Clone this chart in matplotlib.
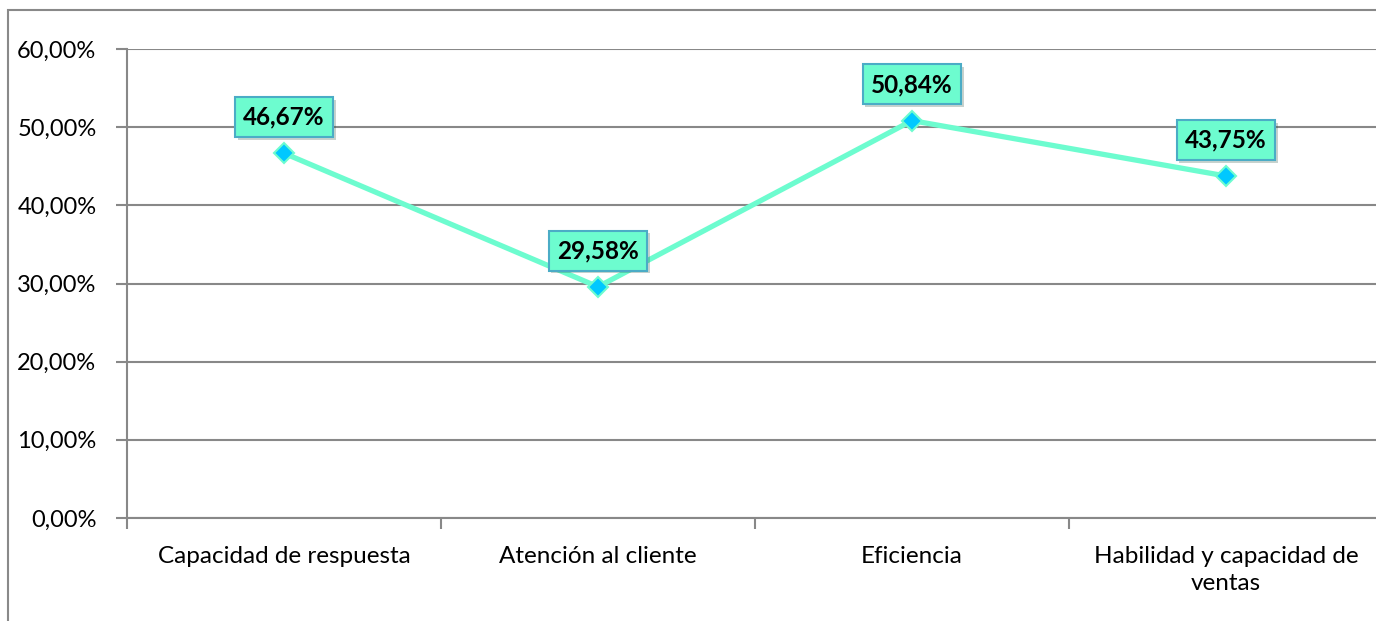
import matplotlib
matplotlib.use("Agg")
import matplotlib.pyplot as plt
from matplotlib.patches import Rectangle
import matplotlib.patheffects as pe

# datos del grafico
categorias = ["Capacidad de respuesta", "Atención al cliente", "Eficiencia",
              "Habilidad y capacidad de\nventas"]
valores = [46.67, 29.58, 50.84, 43.75]
yticks = [0, 10, 20, 30, 40, 50, 60]

plt.rcParams['font.family'] = ['Lato', 'DejaVu Sans']

fig = plt.figure(figsize=(13.76, 6.21), dpi=100)

# marco exterior (cortado a la derecha y abajo)
fig.patches.append(Rectangle((8 / 1376, -0.1), 1.2, 1.1 - 10 / 621,
                             transform=fig.transFigure, fill=False,
                             edgecolor="#898989", linewidth=1.5))

ax = fig.add_axes([127 / 1376, 103 / 621, 1256 / 1376, 469 / 621])

x = list(range(len(categorias)))
ax.plot(x, valores, color="#6DFCCF", linewidth=3.8, zorder=3)
ax.plot(x, valores, linestyle="none", marker="D", markersize=10,
        markerfacecolor="#00C8FF", markeredgecolor="#6DFCCF",
        markeredgewidth=1.5, zorder=4)

for xi, v in zip(x, valores):
    etiqueta = f"{v:.2f}%".replace(".", ",")
    ax.annotate(etiqueta, (xi, v), xytext=(0, 26), textcoords="offset points",
                ha="center", va="center", fontsize=17.5, fontweight="bold",
                color="black", zorder=6,
                bbox=dict(boxstyle="square,pad=0.35", facecolor="#6DFCCF",
                          edgecolor="#4BACC6", linewidth=1.5,
                          path_effects=[pe.SimplePatchShadow(offset=(2, -2), alpha=0.25),
                                        pe.Normal()]))

ax.set_xlim(-0.5, len(categorias) - 0.5)
ax.set_ylim(0, 60)
ax.set_yticks(yticks)
ax.set_yticklabels([f"{t},00%" for t in yticks], fontsize=17)
ax.set_xticks(x)
ax.set_xticklabels(categorias, fontsize=17.5, linespacing=1.35)
ax.tick_params(axis="x", length=0, pad=20)
ax.set_xticks([i - 0.5 for i in range(len(categorias) + 1)], minor=True)
ax.tick_params(axis="x", which="minor", length=8, color="#888888", width=1.5)
ax.tick_params(axis="y", length=8, color="#888888", width=1.5, pad=14)

ax.grid(axis="y", color="#888888", linewidth=1.5)
ax.set_axisbelow(True)
for s in ["top", "right"]:
    ax.spines[s].set_visible(False)
for s in ["left", "bottom"]:
    ax.spines[s].set_color("#888888")
    ax.spines[s].set_linewidth(1.5)

fig.savefig("out.png", dpi=100)
